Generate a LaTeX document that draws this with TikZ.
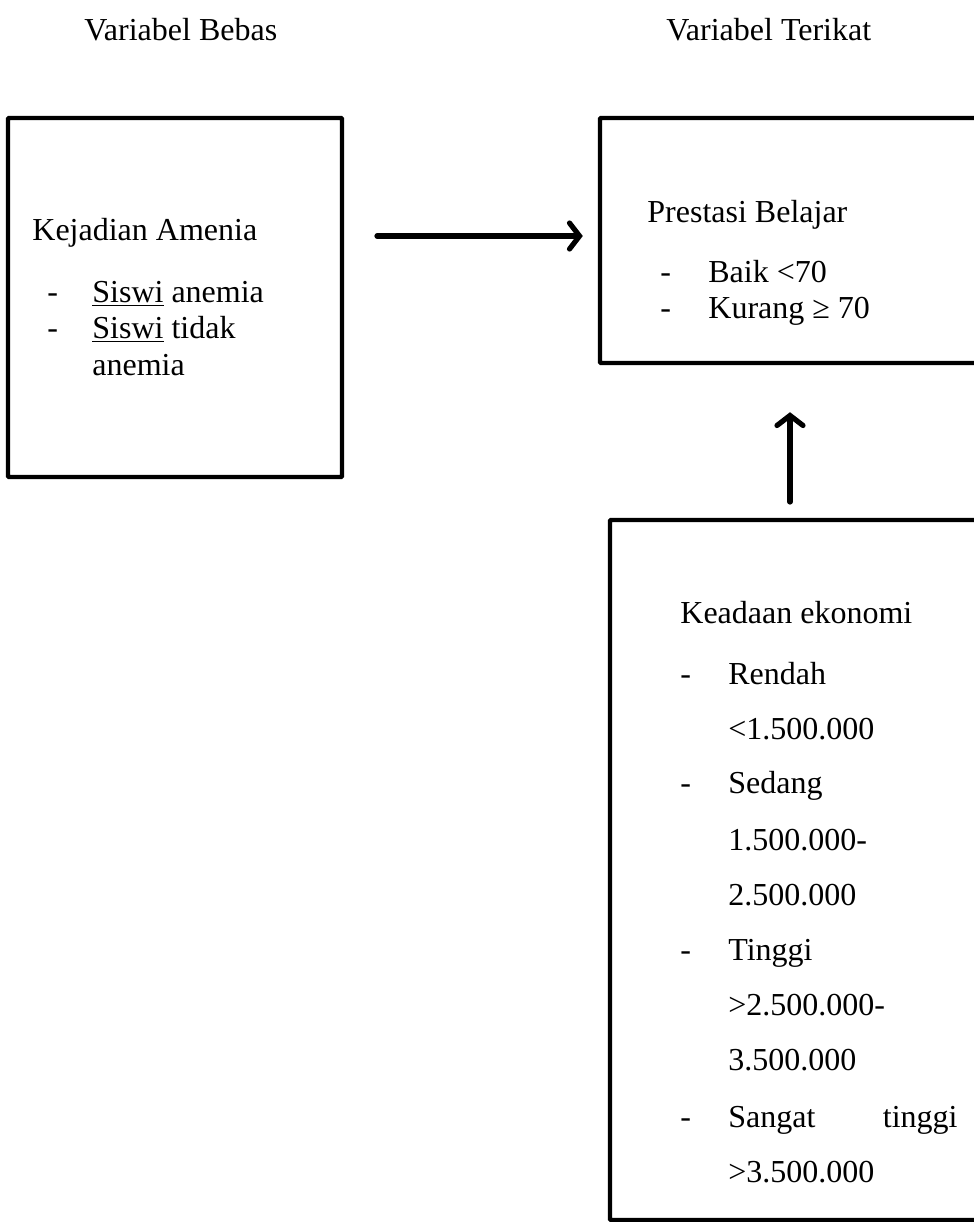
\documentclass[tikz,border=0pt]{standalone}
\usepackage{fontspec}
\setmainfont{Liberation Serif}
\usetikzlibrary{arrows.meta,fit,calc}
\begin{document}
\begin{tikzpicture}[x=0.5pt,y=-0.5pt,
 box/.style={draw, line width=2.2pt, inner sep=0pt, rounded corners=0.5pt},
 txt/.style={anchor=base west, inner sep=0pt, font=\fontsize{16}{18}\selectfont},
 txtr/.style={txt, anchor=base east},
 arr/.style={line width=2.6pt, -{Straight Barb[length=5pt,width=13pt,line cap=round]}, line cap=round}]
\clip (0,0) rectangle (974,1222);
\fill[white] (0,0) rectangle (974,1222);
% titles
\node[txt] (t1) at (84,40) {Variabel Bebas};
\node[txt] (t2) at (666,40) {Variabel Terikat};
% boxes
\node[box, fit={(8,118) (342,477)}] (kiri) {};
\node[box, fit={(600,118) (1010,363)}] (atas) {};
\node[box, fit={(610,520) (1010,1220)}] (bawah) {};
% left box text
\node[txt] (k0) at (32,240) {Kejadian Amenia};
\node[txt] (kd1) at (47,302) {-};
\node[txt] (k1) at (92,302) {\underline{Siswi} anemia};
\node[txt] (kd2) at (47,338) {-};
\node[txt] (k2) at (92,338) {\underline{Siswi} tidak};
\node[txt] (k3) at (92,375) {anemia};
% top right text
\node[txt] (p0) at (647,222) {Prestasi Belajar};
\node[txt] (pd1) at (660,282) {-};
\node[txt] (p1) at (708,282) {Baik <70};
\node[txt] (pd2) at (660,318) {-};
\node[txt] (p2) at (708,318) {Kurang ≥ 70};
% bottom text
\node[txt] (e0) at (680,623) {Keadaan ekonomi};
\node[txt] (ed1) at (680,684) {-};
\node[txt] (e1) at (728,684) {Rendah};
\node[txt] (e2) at (728,739) {<1.500.000};
\node[txt] (ed2) at (680,793) {-};
\node[txt] (e3) at (728,793) {Sedang};
\node[txt] (e4) at (728,850) {1.500.000-};
\node[txt] (e5) at (728,905) {2.500.000};
\node[txt] (ed3) at (680,960) {-};
\node[txt] (e6) at (728,960) {Tinggi};
\node[txt] (e7) at (728,1015) {>2.500.000-};
\node[txt] (e8) at (728,1070) {3.500.000};
\node[txt] (ed4) at (680,1127) {-};
\node[txt] (e9) at (728,1127) {Sangat};
\node[txtr] (e9b) at (958,1127) {tinggi};
\node[txt] (e10) at (728,1182) {>3.500.000};
% arrows
\coordinate (h) at (377,236);
\draw[arr] (h) -- ($(h -| atas.west)+(-7.5pt,0)$);
\coordinate (v) at (790,502);
\draw[arr] (v) -- ($(v |- atas.south)+(0,-23.5pt)$);
\end{tikzpicture}
\end{document}
